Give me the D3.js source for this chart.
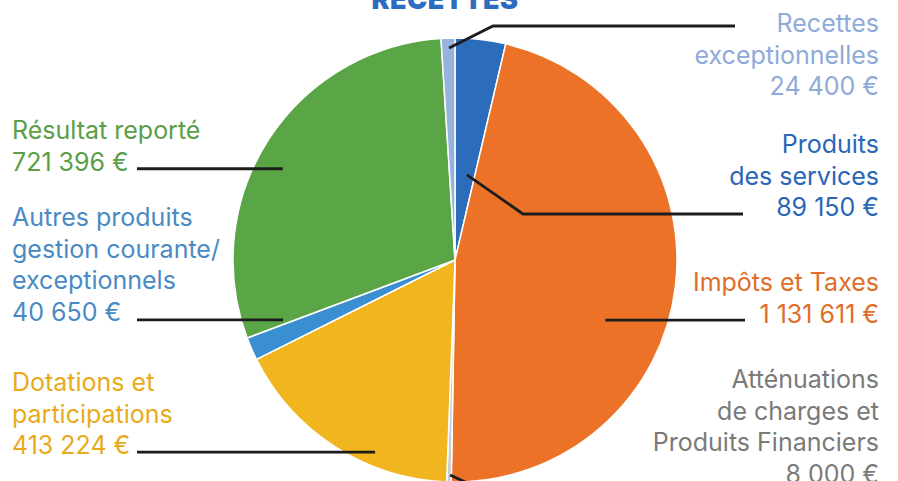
<!DOCTYPE html>
<html><head><meta charset="utf-8">
<script src="https://cdn.jsdelivr.net/npm/d3@7"></script>
<style>
html,body{margin:0;padding:0;background:#fff;}
svg{display:block;}
text{font-family:Inter,"Noto Sans",sans-serif;}
</style></head>
<body>
<script>
// ---- data ----
const categories = ["Produits des services","Impôts et Taxes","Atténuations de charges et Produits Financiers","Dotations et participations","Autres produits gestion courante/exceptionnels","Résultat reporté","Recettes exceptionnelles"];
const values = [89150, 1131611, 8000, 413224, 40650, 721396, 24400];
const valueLabels = ["89 150 €","1 131 611 €","8 000 €","413 224 €","40 650 €","721 396 €","24 400 €"];
const labelLines = [
  ["Produits","des services"],
  ["Impôts et Taxes"],
  ["Atténuations","de charges et","Produits Financiers"],
  ["Dotations et","participations"],
  ["Autres produits","gestion courante/","exceptionnels"],
  ["Résultat reporté"],
  ["Recettes","exceptionnelles"]
];
const sliceColors = ["#2b6cbb","#ec7228","#c9cdd3","#f0b51f","#3a8fd0","#5aa646","#97b2dd"];
const textColors  = ["#2a66b6","#e06d28","#7a7a7a","#e9aa1a","#4a8ac4","#5a9e48","#8eaad9"];

// ---- layout ----
const W=898,H=481, cx=455, cy=260, R=222;
const layout = [
  {anchor:"end", x:879, y:153, lh:31.5, inner:[8.0,86], elbow:[523,214], end:[743,214]},
  {anchor:"end", x:879, y:291, lh:31.5, inner:[111.8,162], elbow:null, end:[745,320]},
  {anchor:"end", x:879, y:388, lh:31.5, inner:[181.3,215], elbow:[482,490], end:[482,490]},
  {anchor:"start", x:12, y:391, lh:31.5, inner:[202.6,208], elbow:null, end:[137,452]},
  {anchor:"start", x:12, y:226, lh:31.5, inner:[250.8,182], elbow:null, end:[137,320]},
  {anchor:"start", x:12, y:139, lh:31.5, inner:[297.9,195], elbow:null, end:[137,169]},
  {anchor:"end", x:879, y:32, lh:31.5, inner:[358.4,212], elbow:[493,26], end:[735,26]}
];

const svg=d3.select("body").append("svg").attr("width",W).attr("height",H);

// title
svg.append("text").attr("x",445).attr("y",9).attr("text-anchor","middle")
  .attr("fill","#2d6cc0").attr("font-size",27).attr("font-weight",900)
  .attr("letter-spacing",0.5).text("RECETTES");

const pie=d3.pie().sort(null).value(d=>d)(values);
const arc=d3.arc().innerRadius(0).outerRadius(R);
const g=svg.append("g").attr("transform",`translate(${cx},${cy})`);
g.selectAll("path").data(pie).join("path")
  .attr("d",arc).attr("fill",(d,i)=>sliceColors[i])
  .attr("stroke","#fff").attr("stroke-width",1.5).attr("stroke-linejoin","round");

const polar=(deg,r)=>{const a=deg*Math.PI/180;return [cx+r*Math.sin(a), cy-r*Math.cos(a)];};

// leader lines
layout.forEach((L,i)=>{
  const p0=polar(L.inner[0],L.inner[1]);
  const pts=[p0];
  if(L.elbow) pts.push(L.elbow); else pts.push([L.end[0],p0[1]]);
  if(L.elbow && (L.end[0]!==L.elbow[0])) pts.push([L.end[0],L.elbow[1]]);
  svg.append("path").attr("d",d3.line()(pts)).attr("fill","none")
    .attr("stroke","#1c1c1c").attr("stroke-width",2.8);
});

// labels
layout.forEach((L,i)=>{
  const lines=labelLines[i].concat([valueLabels[i]]);
  const t=svg.append("text").attr("text-anchor",L.anchor).attr("fill",textColors[i])
    .attr("font-size",25);
  lines.forEach((s,k)=>t.append("tspan").attr("x",L.x).attr("y",L.y+k*L.lh).text(s));
});
</script>
</body></html>
